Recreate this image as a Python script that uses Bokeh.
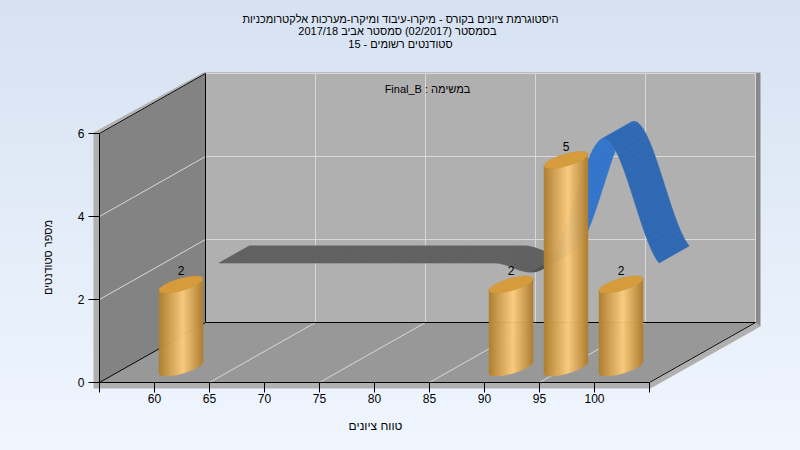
import numpy as np
from bokeh.embed import file_html
from bokeh.resources import INLINE
from bokeh.plotting import figure
from bokeh.models import LinearAxis, FixedTicker, Label, Range1d

# ---- data ----
title_lines = ["\u202bהיסטוגרמת ציונים בקורס - מיקרו-עיבוד ומיקרו-מערכות אלקטרומכניות\u202c",
               "\u202bבסמסטר  (02/2017)  סמסטר אביב 2017/18\u202c",
               "\u202bסטודנטים רשומים - 15\u202c"]
subtitle = "\u202bבמשימה : Final_B\u202c"
y_title = "מספר סטודנטים"
x_title = "טווח ציונים"
x_ticks = [55, 60, 65, 70, 75, 80, 85, 90, 95, 100, 105]
x_labelled = [60, 65, 70, 75, 80, 85, 90, 95, 100]
y_ticks = [0, 2, 4, 6]
bar_x = [60, 90, 95, 100]
bar_y = [2, 2, 5, 2]
line_x = [60, 65, 70, 75, 80, 85, 90, 95, 100]
line_y = [2, 2, 2, 2, 2, 2, 2, 5, 2]

# ---- scale / oblique projection ----
PXG, PXV = 11.0, 41.5            # pixels per grade, pixels per student
G0, V0 = 154.0, 382.0            # pixel of grade 60, pixel of value 0
DG, DV = 106 / PXG, 60 / PXV     # depth vector in data units
Z_BAR, Z_R0, Z_R1 = 0.25, 0.61, 0.893
FONT = "Liberation Sans"


def P(g, v, z=0.0, ox=0.0, oy=0.0):
    return g + DG * z + ox / PXG, v + DV * z - oy / PXV


p = figure(width=800, height=450, output_backend="svg", toolbar_location=None,
           x_range=Range1d(60 - G0 / PXG, 60 + (800 - G0) / PXG),
           y_range=Range1d(-(450 - V0) / PXV, V0 / PXV),
           x_axis_type=None, y_axis_type=None, min_border=0,
           background_fill_color=None, border_fill_color=None, outline_line_color=None)
p.grid.visible = False
p.styles = {"position": "fixed", "left": "0", "top": "0",
            "background": "linear-gradient(180deg, #d6e2f2 0%, #f0f6fe 100%)"}


def poly(points, color, **kw):
    xs, ys = zip(*points)
    p.patch(list(xs), list(ys), fill_color=color, line_color=None, **kw)


def seg(a, b, color, w=1.0):
    p.line([a[0], b[0]], [a[1], b[1]], line_color=color, line_width=w)


XL, XR, YT = x_ticks[0], x_ticks[-1], y_ticks[-1]

# outer frame of the box
poly([P(XL, YT, 1), P(XL, YT, 1, -2, -1), P(XL, YT, 0, -6, -1), P(XL, 0, 0, -6, 6),
      P(XR, 0, 0, 1, 6), P(XR, 0, 1, 5, 4), P(XR, 0, 1), P(XR, 0, 0), P(XL, 0, 0), P(XL, YT, 0)], "#b0b0b0")
poly([P(XL, YT, 1), P(XR, YT, 1), P(XR, YT, 1, 5, -1), P(XL, YT, 1, -2, -1)], "#969696")
poly([P(XR, YT, 1), P(XR, YT, 1, 5, -1), P(XR, 0, 1, 5, 4), P(XR, 0, 1)], "#898989")
# walls and floor
poly([P(XL, 0, 1), P(XR, 0, 1), P(XR, YT, 1), P(XL, YT, 1)], "#b0b0b0")
poly([P(XL, 0, 0), P(XL, 0, 1), P(XL, YT, 1), P(XL, YT, 0)], "#838383")
poly([P(XL, 0, 0), P(XL, 0, 1), P(XR, 0, 1), P(XR, 0, 0)], "#989898")

# grid
GRID = "#d8d8d8"
for g in x_ticks[2::2]:
    seg(P(g, 0, 0), P(g, 0, 1), GRID)
    seg(P(g, 0, 1), P(g, YT, 1), GRID)
for v in y_ticks[1:]:
    seg(P(XL, v, 0), P(XL, v, 1), GRID)
    seg(P(XL, v, 1), P(XR, v, 1), GRID)

# box edges
for a, b in [(P(XL, 0, 0), P(XL, 0, 1)), (P(XL, 0, 1), P(XL, YT, 1)), (P(XL, YT, 0), P(XL, YT, 1)),
             (P(XL, 0, 1), P(XR, 0, 1)), (P(XR, 0, 0), P(XR, 0, 1))]:
    seg(a, b, "black")

# ribbon spline (cardinal, tension 0.5) through line_x / line_y
lx, ly = np.array(line_x, float), np.array(line_y, float)
tang = np.zeros_like(ly)
tang[1:-1] = 0.5 * (ly[2:] - ly[:-2])
tang[0], tang[-1] = 0.5 * (ly[1] - ly[0]), 0.5 * (ly[-1] - ly[-2])
GRAY, DARK, LIGHTB, DARKB = "#606060", "#505050", "#3375cb", "#2f69b4"
quads = []
for i in range(len(lx) - 1):
    u = np.linspace(0, 1, 25)
    gs = lx[i] + (lx[i + 1] - lx[i]) * u
    vs = ((2*u**3 - 3*u**2 + 1) * ly[i] + (u**3 - 2*u**2 + u) * tang[i]
          + (-2*u**3 + 3*u**2) * ly[i + 1] + (u**3 - u**2) * tang[i + 1])
    for k in range(len(u) - 1):
        rising = vs[k + 1] > vs[k] + 1e-9
        if ly[i + 1] > ly[i]:
            col = LIGHTB
        elif ly[i + 1] < ly[i]:
            col = DARKB
        else:
            col = DARK if rising else GRAY
        a, b = P(gs[k], vs[k], Z_R0), P(gs[k + 1], vs[k + 1], Z_R0)
        c, d = P(gs[k + 1], vs[k + 1], Z_R1), P(gs[k], vs[k], Z_R1)
        quads.append(([a[0], b[0], c[0], d[0]], [a[1], b[1], c[1], d[1]], col))
p.patches([q[0] for q in quads], [q[1] for q in quads], fill_color=[q[2] for q in quads],
          line_color=[q[2] for q in quads], line_width=0.6)

# cylinders
RX, RZ = 16.0 / PXG, 8.5 / 60.0
t = np.linspace(0, 2 * np.pi, 721)
eu = RX * np.cos(t) + DG * RZ * np.sin(t)
ev = DV * RZ * np.sin(t)
W = eu.max()
edges = np.linspace(-W, W, 46)
low = np.array([ev[np.abs(eu - e) <= np.abs(eu - e).min() + 0.02].min() for e in edges])
low[0] = ev[np.argmin(eu)]
low[-1] = ev[np.argmax(eu)]


def cyl_color(f):
    edge, mid = np.array([176, 128, 50]), np.array([255, 206, 125])
    s = f / 0.55 if f < 0.55 else (1 - f) / 0.45
    return "#%02x%02x%02x" % tuple(int(c) for c in edge + (mid - edge) * s)


for g, v in zip(bar_x, bar_y):
    cx, cy = P(g, 0, Z_BAR)
    xs, ys, cols = [], [], []
    for i in range(len(edges) - 1):
        xs.append([cx + edges[i], cx + edges[i + 1], cx + edges[i + 1], cx + edges[i]])
        ys.append([cy + low[i], cy + low[i + 1], cy + v + low[i + 1], cy + v + low[i]])
        cols.append(cyl_color((i + 0.5) / (len(edges) - 1)))
    p.patches(xs, ys, fill_color=cols, line_color=cols, line_width=0.5)
    p.patch(list(cx + eu), list(cy + v + ev), fill_color="#d69c3c", line_color="#c8923a", line_width=0.5)
    p.text([cx], [cy + v], text=[str(v)], text_align="center", text_baseline="middle", y_offset=-14,
           text_font={"value": FONT}, text_font_size="12px", text_color="black")

# axes
xa = LinearAxis(fixed_location=0, bounds=(XL, XR), ticker=FixedTicker(ticks=x_ticks),
                major_label_overrides={g: (str(g) if g in x_labelled else "") for g in x_ticks},
                major_tick_in=0, major_tick_out=10, minor_tick_line_color=None,
                major_label_standoff=1, major_label_text_font=FONT, major_label_text_font_size="12px",
                major_label_text_color="black", axis_line_color="black", major_tick_line_color="black")
ya = LinearAxis(fixed_location=XL, bounds=(0, YT), ticker=FixedTicker(ticks=y_ticks),
                major_tick_in=0, major_tick_out=11, minor_tick_line_color=None,
                major_label_standoff=4, major_label_text_font=FONT, major_label_text_font_size="12px",
                major_label_text_color="black", axis_line_color="black", major_tick_line_color="black")
p.add_layout(xa, "below")
p.add_layout(ya, "left")


def label(text, x, y, angle=0.0, size="11px"):
    p.add_layout(Label(x=x, y=450 - y, x_units="screen", y_units="screen", text=text, angle=angle,
                       text_align="center", text_baseline="middle", text_font=FONT,
                       text_font_size=size, text_color="black"))


for line, yy in zip(title_lines, [18, 30.5, 43]):
    label(line, 400, yy)
label(subtitle, 427, 88)
label(x_title, 375, 425, size="12px")
label(y_title, 47, 257, np.pi / 2)

open("out.html", "w").write(file_html(p, INLINE))
